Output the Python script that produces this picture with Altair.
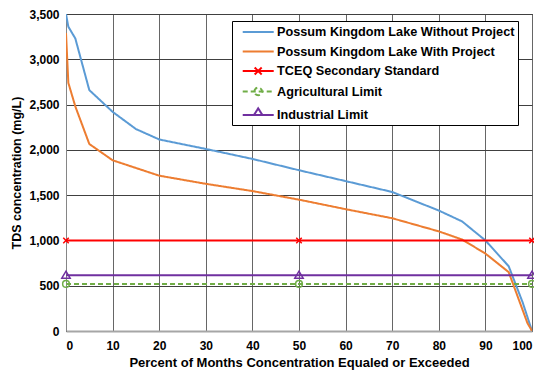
import altair as alt
import pandas as pd

series_names = [
    "Possum Kingdom Lake Without Project",
    "Possum Kingdom Lake With Project",
    "TCEQ Secondary Standard",
    "Agricultural Limit",
    "Industrial Limit",
]
colors = ["#5B9BD5", "#ED7D31", "#FF0000", "#70AD47", "#7030A0"]
dashes = [[1, 0], [1, 0], [1, 0], [5, 3], [1, 0]]

pct_without = [0, 0.5, 2, 5, 10, 15, 20, 30, 40, 50, 60, 70, 80, 85, 90, 95, 98, 100]
tds_without = [3500, 3360, 3230, 2660, 2420, 2230, 2115, 2010, 1900, 1775, 1655, 1535, 1330, 1210, 1000, 715, 315, 0]

pct_with = [0, 0.5, 2, 5, 10, 20, 30, 40, 50, 60, 70, 80, 85, 90, 95, 99, 100]
tds_with = [3290, 2740, 2480, 2065, 1885, 1715, 1625, 1545, 1450, 1345, 1245, 1100, 1010, 855, 650, 90, 0]

std_pct = [0, 50, 100]
tceq = 1000
agri = 520
indus = 615

rows = []
for p, v in zip(pct_without, tds_without):
    rows.append({"pct": p, "tds": v, "series": series_names[0]})
for p, v in zip(pct_with, tds_with):
    rows.append({"pct": p, "tds": v, "series": series_names[1]})
for i, lvl in zip([2, 3, 4], [tceq, agri, indus]):
    for p in std_pct:
        rows.append({"pct": p, "tds": lvl, "series": series_names[i]})
df = pd.DataFrame(rows)

font = "Liberation Sans"

xenc = alt.X("pct:Q", scale=alt.Scale(domain=[0, 100], nice=False),
             axis=alt.Axis(values=list(range(0, 101, 10)), title="Percent of Months Concentration Equaled or Exceeded",
                           labelFont=font, labelFontWeight="bold", labelFontSize=12, labelColor="#000",
                           titleFont=font, titleFontWeight="bold", titleFontSize=13, titleColor="#000",
                           ticks=False, labelPadding=9, titlePadding=5,
                           domainColor="#A6A6A6", domainWidth=2,
                           gridColor="#666666", gridWidth=1))
yenc = alt.Y("tds:Q", scale=alt.Scale(domain=[0, 3500], nice=False),
             axis=alt.Axis(values=list(range(0, 3501, 500)), format=",.0f", title="TDS concentration (mg/L)",
                           labelFont=font, labelFontWeight="bold", labelFontSize=12, labelColor="#000",
                           titleFont=font, titleFontWeight="bold", titleFontSize=12.5, titleColor="#000",
                           ticks=False, labelPadding=7, titlePadding=5,
                           domainColor="#868686", domainWidth=1,
                           gridColor="#404040", gridWidth=1))

base = alt.Chart(df)

layers = []
for i, name in enumerate(series_names):
    layers.append(
        base.transform_filter(alt.datum.series == name)
        .mark_line(strokeWidth=2, clip=True, color=colors[i], strokeDash=dashes[i])
        .encode(x=xenc, y=yenc)
    )

marker_shapes = ["M-1,-1L1,1M-1,1L1,-1", "circle", "M-1,0.7L0,-1L1,0.7Z"]
marker_sizes = [30, 45, 70]
for j, i in enumerate([2, 3, 4]):
    layers.append(
        base.transform_filter(alt.datum.series == series_names[i])
        .mark_point(shape=marker_shapes[j], size=marker_sizes[j], strokeWidth=1.5, filled=False,
                    color=colors[i], opacity=1)
        .encode(x="pct:Q", y="tds:Q")
    )

color_scale = alt.Scale(domain=series_names, range=colors)
dash_scale = alt.Scale(domain=series_names, range=dashes)
shape_scale = alt.Scale(domain=series_names, range=[
    "M-0.04,0L4.39,0",
    "M-0.04,0L4.39,0",
    "M-0.04,0L4.39,0M1.67,-0.5L2.67,0.5M1.67,0.5L2.67,-0.5",
    "M-0.04,0L4.39,0M1.62,0A0.55,0.55,0,1,1,2.72,0A0.55,0.55,0,1,1,1.62,0",
    "M-0.04,0L4.39,0M1.57,0L2.17,-0.95L2.77,0Z",
])

leg = alt.Legend(orient="none", legendX=166, legendY=7, title=None,
                 labelFont=font, labelFontWeight="bold", labelFontSize=12.7, labelColor="#000",
                 symbolSize=196, symbolStrokeWidth=2, symbolOpacity=1,
                 strokeColor="#000", fillColor="#fff", padding=3,
                 rowPadding=4.5, labelOffset=26, labelLimit=400, cornerRadius=0)

legend_layer = base.mark_point(filled=False, opacity=0, strokeWidth=2).encode(
    x="pct:Q", y="tds:Q",
    color=alt.Color("series:N", scale=color_scale, title=None, legend=leg),
    shape=alt.Shape("series:N", scale=shape_scale, title=None, legend=leg),
    strokeDash=alt.StrokeDash("series:N", scale=dash_scale, title=None, legend=leg),
)
layers.append(legend_layer)

chart = alt.layer(*layers).properties(
    width=466, height=317,
    autosize=alt.AutoSizeParams(type="none"),
    padding={"left": 58, "top": 6, "right": 2, "bottom": 42},
).configure_view(stroke="#000", strokeWidth=1).configure_axis(grid=True)

chart.save("out.html", embed_options={"renderer": "svg", "actions": False})
